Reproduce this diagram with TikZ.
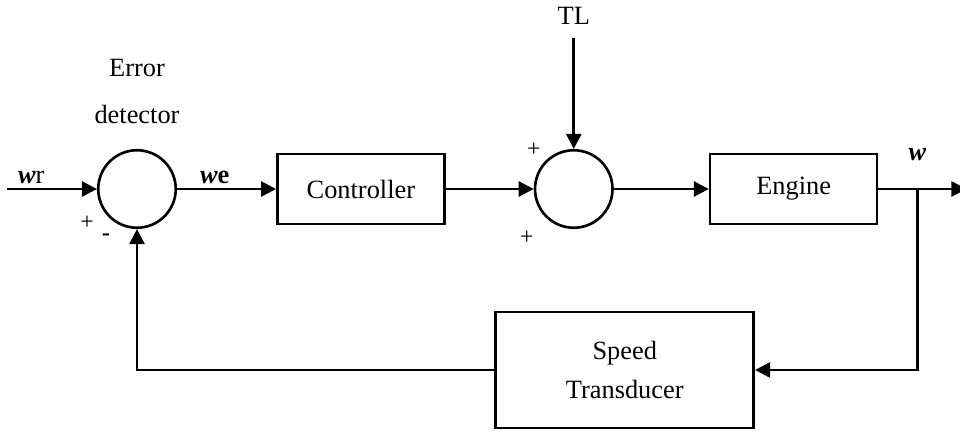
\documentclass[tikz,border=0pt]{standalone}
\usepackage{fontspec}
\setmainfont{Liberation Serif}
\usetikzlibrary{arrows.meta,positioning,calc}

\begin{document}
\begin{tikzpicture}[
      font=\fontsize{15}{18}\selectfont,
      box/.style={draw, line width=1.5pt, align=center, minimum width=33.4mm,
                  minimum height=14mm, inner sep=3pt},
      tdbox/.style={draw, line width=1.5pt, align=center, minimum width=51.6mm,
                    minimum height=23.2mm, inner sep=3pt},
      sum/.style={draw, circle, line width=1.5pt, minimum size=15.5mm, inner sep=0pt},
      sgn/.style={font=\fontsize{13.5}{16}\selectfont, inner sep=0pt},
      sig/.style={inner sep=2pt},
      arr/.style={-{Triangle[length=3mm, width=3mm]}, line width=1.5pt}
    ]
    \useasboundingbox (-27.4mm,-48.8mm) rectangle (164.6mm,37.8mm);
    \node[sum] (err) at (0,0) {};
    \node[box, right=19.8mm of err] (ctrl) {Controller};
    \node[sum, right=17.6mm of ctrl] (add) {};
    \node[box, right=19mm of add] (eng) {Engine};
    \node[tdbox] (trans) at ($(add)+(10.2mm,-36.2mm)$) {Speed\\[4.7pt]Transducer};
    \coordinate[left=18mm of err.west] (in);
    \coordinate[right=7.8mm of eng.east] (br);
    \coordinate[right=17.6mm of eng.east] (out);
    \node[above=22.2mm of add.north, inner sep=0pt, outer sep=2.6mm] (tl) {TL};
    \node[above=5mm of err, align=center, inner sep=0pt] (det) {Error\\[8.7pt]detector};
    % signs at the summing points
    \node[sgn] (p1) at ($(err)+(-10mm,-6.8mm)$) {+};
    \node[sgn] (m1) at ($(err)+(-6.2mm,-9.6mm)$) {\textbf{-}};
    \node[sgn] (p2) at ($(add)+(-8mm,7.8mm)$) {+};
    \node[sgn] (p3) at ($(add)+(-9.4mm,-9.8mm)$) {+};
    % forward path
    \draw[arr] (in) -- node[sig, above, pos=0.27] (wr) {\textbf{\textit{w}}r} (err.west);
    \draw[arr] (err.east) -- node[sig, above, pos=0.38] (we) {\textbf{\textit{w}e}} (ctrl.west);
    \draw[arr] (ctrl.east) -- (add.west);
    \draw[arr] (add.east) -- (eng.west);
    \draw[arr] (eng.east) -- (out);
    \draw[arr] (tl.south) -- (add.north);
    \node[sig, above=4.8mm of br] (w) {\textbf{\textit{w}}};
    % feedback path
    \draw[arr] (br) |- (trans.east);
    \draw[arr] (trans.west) -| (err.south);
  \end{tikzpicture}
\end{document}
